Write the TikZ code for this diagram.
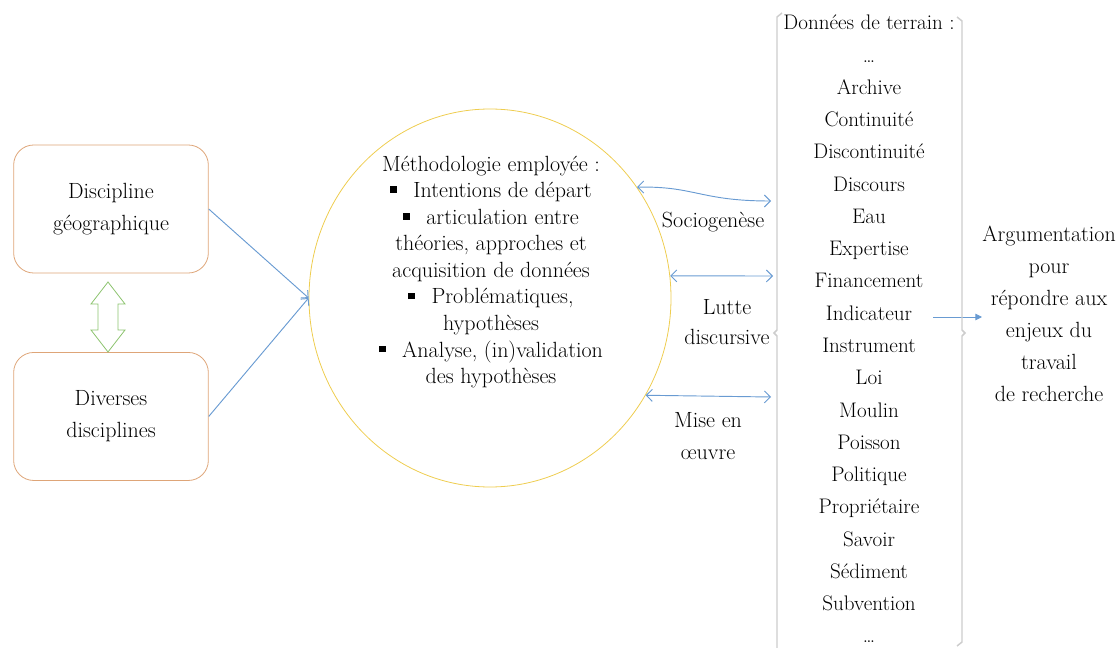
\documentclass[tikz,border=0pt]{standalone}
\usepackage{fontspec}
\usetikzlibrary{positioning, shapes.geometric, arrows.meta, calc}

\definecolor{bleu}{RGB}{105,155,210}
\definecolor{jaune}{RGB}{238,205,80}
\definecolor{orangeclair}{RGB}{222,165,120}
\definecolor{vert}{RGB}{140,195,110}
\definecolor{gris}{RGB}{205,205,205}

\newcommand{\puce}{\rule[0.22em]{0.3em}{0.3em}\hspace{0.75em}}

\begin{document}
\begin{tikzpicture}[x=0.75pt, y=-0.75pt, font=\fontsize{16.5}{24}\selectfont,
    boite/.style={draw=orangeclair, line width=0.6pt, rounded corners=15pt,
        minimum width=146pt, minimum height=96pt, align=center},
    fleche/.style={draw=bleu, line width=0.7pt, -{Straight Barb[length=4pt,width=8pt]}},
    allerretour/.style={draw=bleu, line width=0.7pt,
        {Straight Barb[length=4.5pt,width=9pt]}-{Straight Barb[length=4.5pt,width=9pt]}},
    crochet/.style={draw=gris, line width=1.1pt}]
    \useasboundingbox (0,0) rectangle (1120,648);

    % Define the nodes
    \node[boite] (disc_geo) at (111,209) {Discipline\\géographique};
    \node[boite] (disc_div) [below=59pt of disc_geo] {Diverses\\disciplines};
    \node[ellipse, draw=jaune, line width=0.6pt, minimum width=271.5pt,
        minimum height=283.5pt] (methodo) at (490,298) {};
    \node[align=center, font=\fontsize{16.5}{19.9}\selectfont] (methodo_txt) at (491,272)
        {Méthodologie employée :\\
        \puce Intentions de départ\\
        \puce articulation entre\\
        théories, approches et\\
        acquisition de données\\
        \puce Problématiques,\\
        hypothèses\\
        \puce Analyse, (in)validation\\
        des hypothèses};
    \node[align=center, font=\fontsize{15.8}{24.2}\selectfont] (terrain) at (869,329)
        {Données de terrain :\\ \dots\\ Archive\\ Continuité\\ Discontinuité\\ Discours\\
        Eau\\ Expertise\\ Financement\\ Indicateur\\ Instrument\\ Loi\\ Moulin\\ Poisson\\
        Politique\\ Propriétaire\\ Savoir\\ Sédiment\\ Subvention\\ \dots};
    \node[align=center, inner sep=0pt] (argu) at (1049,314)
        {Argumentation\\ pour\\ répondre aux\\ enjeux du\\ travail\\ de recherche};
    \node (socio) at (713,222) {Sociogenèse};
    \node[align=center, font=\fontsize{16.5}{22.5}\selectfont] (lutte) at (727,322) {Lutte\\discursive};
    \node[align=center] (mise) at (708,436) {Mise en\\œuvre};

    \coordinate (socio_fin) at (771,201);
    \coordinate (lutte_fin) at (773,276);
    \coordinate (mise_fin) at (771,397);
    \coordinate (terrain_out) at (933,317);
    \coordinate (lien) at (108,317);

    % Define the connectors
    \draw[fleche] (disc_geo.east) -- (methodo.west);
    \draw[fleche] (disc_div.east) -- (methodo.west);
    \draw[draw=vert, line width=0.6pt] (lien) ++(0,-35) -- ++(17,22) -- ++(-7,0) -- ++(0,26)
        -- ++(7,0) -- ++(-17,22) -- ++(-17,-22) -- ++(7,0) -- ++(0,-26) -- ++(-7,0) -- cycle;
    \draw[allerretour] (methodo.37) .. controls (695,186) and (700,201) .. (socio_fin);
    \draw[allerretour] (methodo.7) -- (lutte_fin);
    \draw[allerretour] (methodo.-32) -- (mise_fin);
    \draw[draw=bleu, line width=0.7pt, -{Triangle[length=5pt,width=5pt]}]
        (terrain_out) -- (terrain_out -| argu.west);

    % Brackets round the field data
    \draw[crochet] (782,13) -- (777,17) -- (777,330) -- (774,333) -- (777,336) -- (777,648);
    \draw[crochet] (957,17) -- (962,21) -- (962,330) -- (965,333) -- (962,336) -- (962,642) -- (957,646);
\end{tikzpicture}
\end{document}
